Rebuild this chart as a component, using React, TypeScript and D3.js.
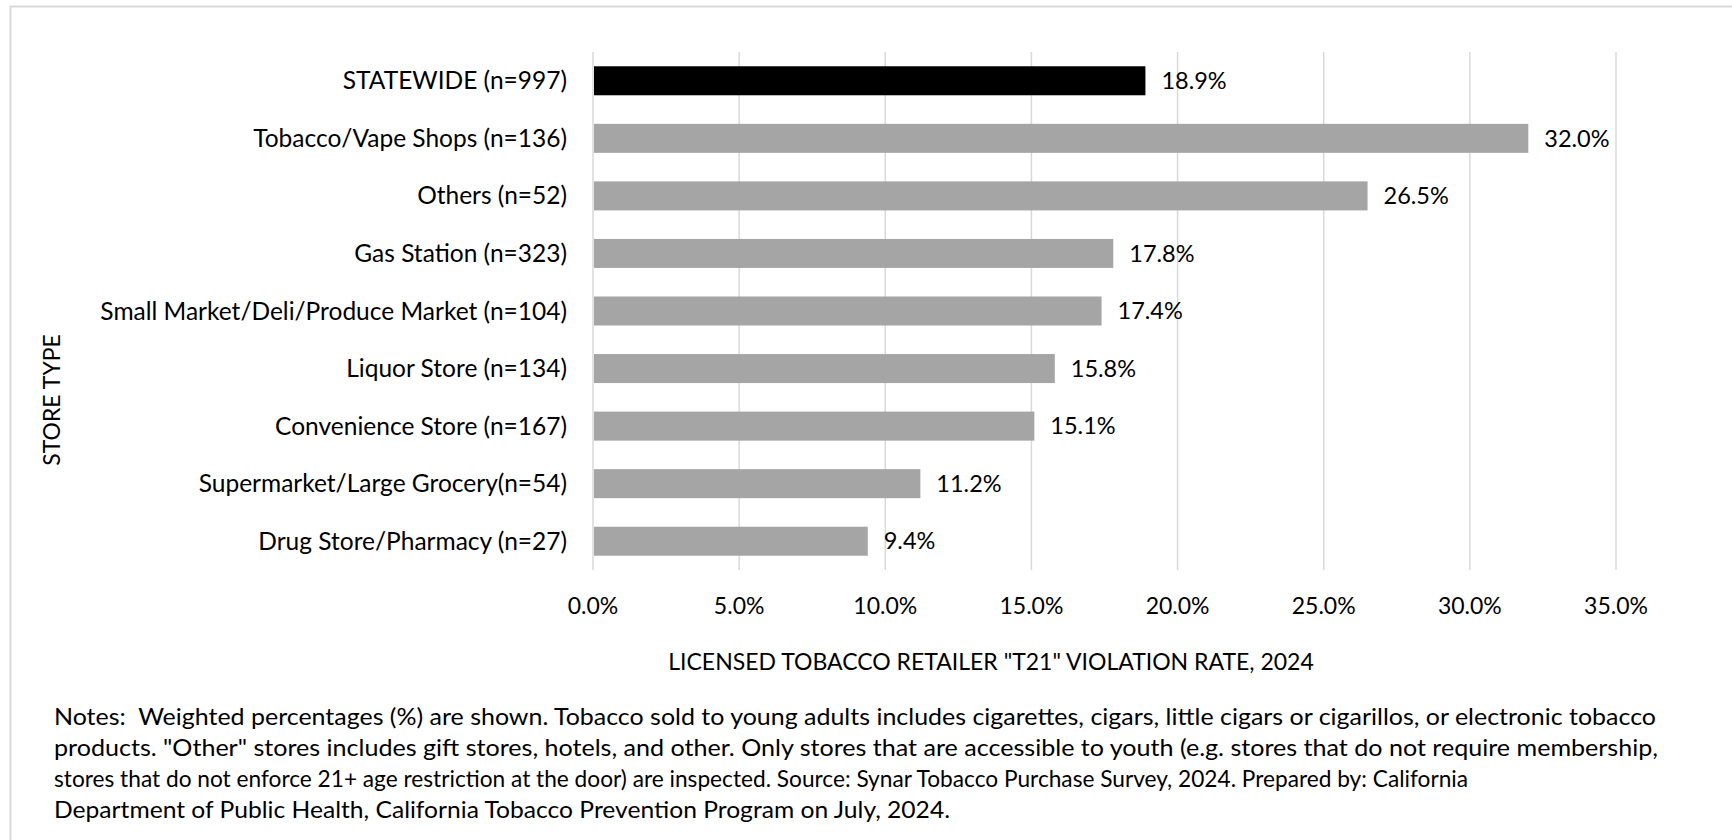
import React from "react";
import * as d3 from "d3";

// store types, top to bottom
const storeTypes = [
  "STATEWIDE (n=997)",
  "Tobacco/Vape Shops (n=136)",
  "Others (n=52)",
  "Gas Station (n=323)",
  "Small Market/Deli/Produce Market (n=104)",
  "Liquor Store (n=134)",
  "Convenience Store (n=167)",
  "Supermarket/Large Grocery(n=54)",
  "Drug Store/Pharmacy (n=27)",
];
// violation rate (%)
const rates = [18.9, 32.0, 26.5, 17.8, 17.4, 15.8, 15.1, 11.2, 9.4];
const xTicks = [0, 5, 10, 15, 20, 25, 30, 35];

const notes = [
  "Notes:  Weighted percentages (%) are shown. Tobacco sold to young adults includes cigarettes, cigars, little cigars or cigarillos, or electronic tobacco",
  "products. \"Other\" stores includes gift stores, hotels, and other. Only stores that are accessible to youth (e.g. stores that do not require membership,",
  "stores that do not enforce 21+ age restriction at the door) are inspected. Source: Synar Tobacco Purchase Survey, 2024. Prepared by: California",
  "Department of Public Health, California Tobacco Prevention Program on July, 2024.",
];
const noteWidths = [1602, 1604, 1414, 896];

const W = 1732;
const H = 840;
const font = "Lato, 'Open Sans', sans-serif";

export default function App() {
  const x = d3.scaleLinear().domain([0, 35]).range([593, 1616]);
  const y = d3.scaleBand().domain(storeTypes).range([52, 570]).paddingInner(0.496).paddingOuter(0.248);
  const fmt = (v: number) => v.toFixed(1) + "%";

  return (
    <svg width={W} height={H} style={{ position: "absolute", left: 0, top: 0, display: "block" }} fontFamily={font}>
      <rect x={0} y={0} width={W} height={H} fill="#fff" />
      {/* chart frame */}
      <path d={`M10.5,${H} V6.5 H${W}`} fill="none" stroke="#d9d9d9" strokeWidth={2} />

      {/* gridlines */}
      {xTicks.map((t) => (
        <line key={t} x1={x(t)} x2={x(t)} y1={52} y2={570} stroke="#d9d9d9" strokeWidth={1.5} />
      ))}

      {/* bars */}
      {storeTypes.map((s, i) => (
        <g key={s}>
          <rect
            x={x(0) + 1}
            y={y(s)}
            width={x(rates[i]) - x(0) - 1}
            height={y.bandwidth()}
            fill={i === 0 ? "#000000" : "#a5a5a5"}
          />
          <text x={x(rates[i]) + 16} y={(y(s) as number) + y.bandwidth() / 2} dy="0.35em" fontSize={23.5}>
            {fmt(rates[i])}
          </text>
          <text x={567} y={(y(s) as number) + y.bandwidth() / 2} dy="0.35em" fontSize={24.5} textAnchor="end">
            {s}
          </text>
        </g>
      ))}

      {/* x tick labels */}
      {xTicks.map((t) => (
        <text key={t} x={x(t)} y={606} dy="0.35em" fontSize={23} textAnchor="middle">
          {fmt(t)}
        </text>
      ))}

      {/* axis titles */}
      <text x={991} y={662} dy="0.35em" fontSize={23} textAnchor="middle">
        LICENSED TOBACCO RETAILER "T21" VIOLATION RATE, 2024
      </text>
      <text transform="translate(52,400) rotate(-90)" dy="0.35em" fontSize={23} textAnchor="middle">
        STORE TYPE
      </text>

      {/* notes */}
      {notes.map((line, i) => (
        <text
          key={i}
          x={54}
          y={717 + i * 31}
          dy="0.35em"
          fontSize={23}
          textLength={noteWidths[i]}
          lengthAdjust="spacingAndGlyphs"
          xmlSpace="preserve"
        >
          {line}
        </text>
      ))}
    </svg>
  );
}
